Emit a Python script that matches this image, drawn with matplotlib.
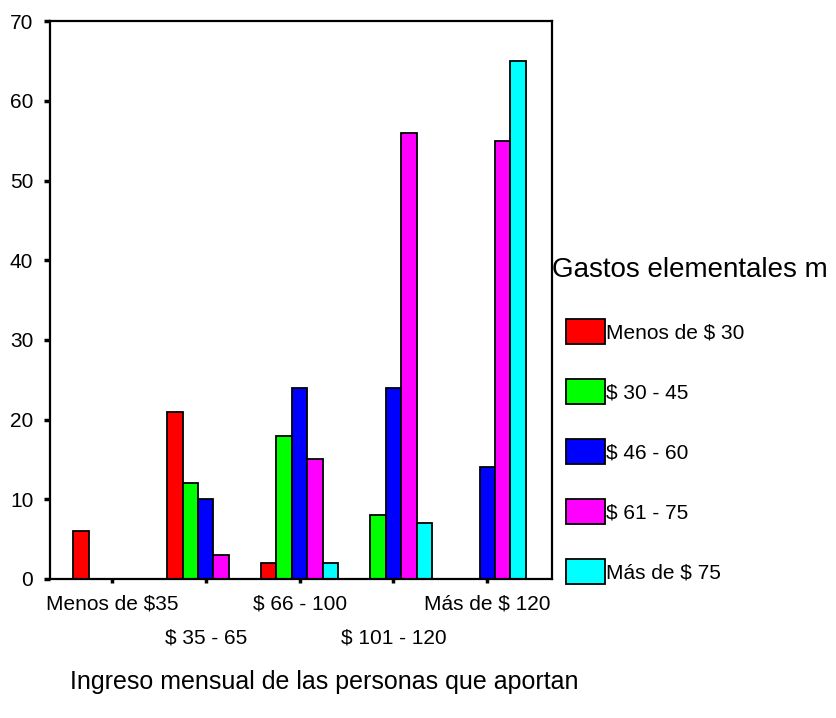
import numpy as np
import matplotlib
matplotlib.use("Agg")
import matplotlib.pyplot as plt

plt.rcParams["font.family"] = ["Liberation Sans", "DejaVu Sans"]

ingresos = ["Menos de $35", "$ 35 - 65", "$ 66 - 100", "$ 101 - 120", "Más de $ 120"]
gastos = ["Menos de $ 30", "$ 30 - 45", "$ 46 - 60", "$ 61 - 75", "Más de $ 75"]
colores = ["#ff0000", "#00ff00", "#0000ff", "#ff00ff", "#00ffff"]

menos_30 = [6, 21, 2, 0, 0]
de_30_45 = [0, 12, 18, 8, 0]
de_46_60 = [0, 10, 24, 24, 14]
de_61_75 = [0, 3, 15, 56, 55]
mas_75 = [0, 0, 2, 7, 65]
series = [menos_30, de_30_45, de_46_60, de_61_75, mas_75]


def main():
    fig = plt.figure(figsize=(8.37, 7.18), dpi=100)
    ax = fig.add_axes([0.0597, 0.1936, 0.5998, 0.777])

    x = np.arange(len(ingresos))
    width = 0.165
    for i, (vals, label, color) in enumerate(zip(series, gastos, colores)):
        ax.bar(x + (i - 2) * width, vals, width, color=color, edgecolor="black",
               linewidth=1.3, label=label, zorder=2)

    ax.set_xlim(-0.66, 4.69)
    ax.set_ylim(0, 70)
    ax.set_yticks(range(0, 71, 10))
    # SPSS style: staggered category labels (odd ones on a second row)
    ax.set_xticks(x[::2])
    ax.set_xticklabels(ingresos[::2], fontsize=15)
    ax.set_xticks(x[1::2], minor=True)
    ax.set_xticklabels(ingresos[1::2], minor=True, fontsize=15)
    ax.tick_params(axis="y", labelsize=15, length=4, width=2.5, pad=8)
    ax.tick_params(axis="x", which="major", length=3, width=2.5, pad=8)
    ax.tick_params(axis="x", which="minor", length=3, width=2.5, pad=33)
    for s in ax.spines.values():
        s.set_linewidth(1.6)

    fig.text(552 / 837, 1 - 270 / 718, "Gastos elementales m", fontsize=20,
             va="center", ha="left")
    leg = fig.legend(loc="upper left", bbox_to_anchor=(566 / 837, 1 - 319 / 718),
                     frameon=False, fontsize=15, handlelength=1.875, handleheight=1.5,
                     handletextpad=0.05, labelspacing=1.66, borderpad=0,
                     borderaxespad=0)
    for h in leg.legend_handles:
        h.set_linewidth(1.3)

    fig.text(70 / 837, 1 - 682 / 718, "Ingreso mensual de las personas que aportan",
             fontsize=18, va="center", ha="left")

    fig.savefig("out.png", dpi=100)


if __name__ == "__main__":
    main()
